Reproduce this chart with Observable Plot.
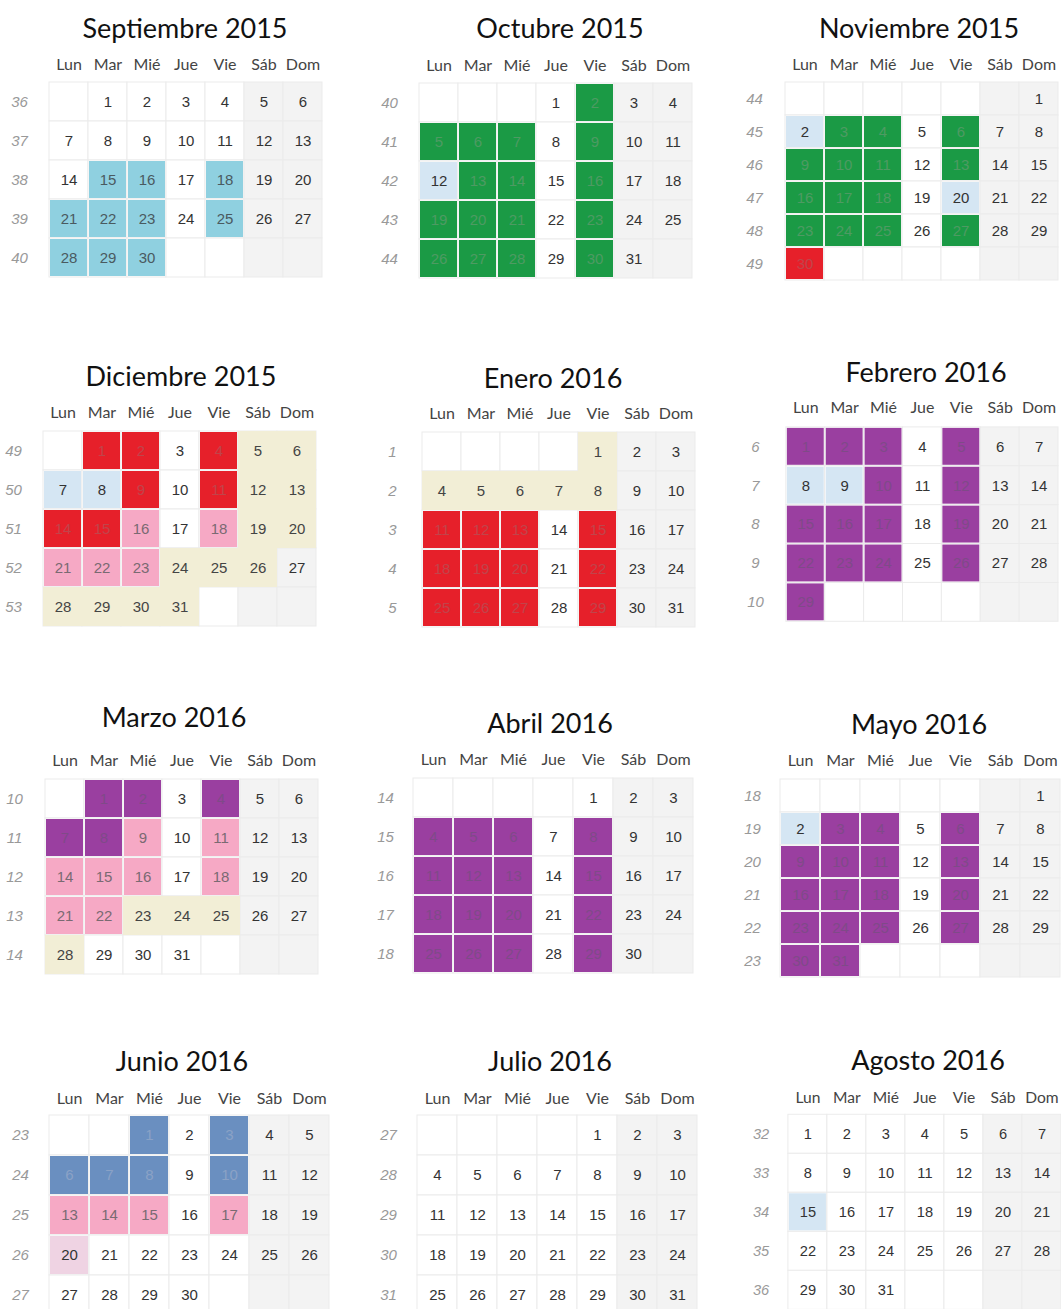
<!DOCTYPE html>
<html><head><meta charset="utf-8">
<script src="https://cdn.jsdelivr.net/npm/d3@7"></script>
<script src="https://cdn.jsdelivr.net/npm/@observablehq/plot@0.6"></script>
<style>
body{margin:0;background:#fff;}
#root{position:relative;width:1061px;height:1309px;overflow:hidden;background:#fff;}
.plotbox{position:absolute;}
.title{position:absolute;font-family:Lato,"Open Sans",sans-serif;font-size:27px;color:#111;white-space:nowrap;transform:translate(-50%,-50%);}
</style></head><body><div id="root"></div>
<script>
// ---------- data ----------
const weekdays = ["Lun","Mar","Mié","Jue","Vie","Sáb","Dom"];
const monthNames = ["Septiembre","Octubre","Noviembre","Diciembre","Enero","Febrero","Marzo","Abril","Mayo","Junio","Julio","Agosto"];
const monthYears = [2015,2015,2015,2015,2016,2016,2016,2016,2016,2016,2016,2016];
const monthIndex = [8,9,10,11,0,1,2,3,4,5,6,7];
const weekLabels = [
  ["36","37","38","39","40"],
  ["40","41","42","43","44"],
  ["44","45","46","47","48","49"],
  ["49","50","51","52","53"],
  ["1","2","3","4","5"],
  ["6","7","8","9","10"],
  ["10","11","12","13","14"],
  ["14","15","16","17","18"],
  ["18","19","20","21","22","23"],
  ["23","24","25","26","27"],
  ["27","28","29","30","31"],
  ["32","33","34","35","36"]
];
// highlighted days per month (index as monthNames)
const cyanDays = [[15,16,18,21,22,23,25,28,29,30],[],[],[],[],[],[],[],[],[],[],[]];
const greenDays = [[],[2,5,6,7,9,13,14,16,19,20,21,23,26,27,28,30],[3,4,6,9,10,11,13,16,17,18,23,24,25,27],[],[],[],[],[],[],[],[],[]];
const paleBlueDays = [[],[12],[2,20],[7,8],[],[8,9],[],[],[2],[],[],[15]];
const redDays = [[],[],[30],[1,2,4,9,11,14,15],[11,12,13,15,18,19,20,22,25,26,27,29],[],[],[],[],[],[],[]];
const pinkDays = [[],[],[],[16,18,21,22,23],[],[],[9,11,14,15,16,18,21,22],[],[],[13,14,15,17],[],[]];
const lightPinkDays = [[],[],[],[],[],[],[],[],[],[20],[],[]];
const beigeDays = [[],[],[],[5,6,12,13,19,20,24,25,26,28,29,30,31],[1,4,5,6,7,8],[],[23,24,25,28],[],[],[],[],[]];
const purpleDays = [[],[],[],[],[],[1,2,3,5,10,12,15,16,17,19,22,23,24,26,29],[1,2,4,7,8],[4,5,6,8,11,12,13,15,18,19,20,22,25,26,27,29],[3,4,6,9,10,11,13,16,17,18,20,23,24,25,27,30,31],[],[],[]];
const slateDays = [[],[],[],[],[],[],[],[],[],[1,3,6,7,8,10],[],[]];

// ---------- styles / layout ----------
const cats = [
  {days: cyanDays, fill: "#8fd0e0", text: "#4a5a60", inset: 1},
  {days: greenDays, fill: "#1b9a45", text: "#4e9a63", inset: 1},
  {days: paleBlueDays, fill: "#d5e6f3", text: "#333", inset: 1},
  {days: redDays, fill: "#e6202a", text: "#c1444a", inset: 1},
  {days: pinkDays, fill: "#f6a9c5", text: "#7a6a72", inset: 1},
  {days: lightPinkDays, fill: "#efd3e3", text: "#333", inset: 1},
  {days: beigeDays, fill: "#f2eed6", text: "#444", inset: 0},
  {days: purpleDays, fill: "#9a3fa0", text: "#7f4a88", inset: 1},
  {days: slateDays, fill: "#6a8fc0", text: "#8aa2c6", inset: 1}
];
// grid left, grid top, grid right, row height, title offset above grid, title centre x
const layout = [
  [47,81,324,39.4,54,185],[417,82,693,39.2,55,560],[782,82,1060,33.1,55,919],
  [41,429,318,39.6,54,181],[420,430,697,39.6,53,553],[783,425,1062,39.6,54,926],
  [42,777,320,39.8,61,174],[413,776,693,39.8,54,550],[780,777,1060,33.5,54,919],
  [48,1115,330,40,55,182],[416,1115,698,40,55,550],[789,1115,1069,40,56,928]
];
const ML = 45, MT = 30, MB = 2;
const root = document.getElementById("root");

monthNames.forEach((name, i) => {
  const [gl, gt, gr, rh, tdy, tcx] = layout[i];
  const labels = weekLabels[i];
  const y = monthYears[i], m = monthIndex[i];
  const first = new Date(y, m, 1);
  const nDays = d3.timeDay.count(first, new Date(y, m + 1, 1));
  const days = d3.range(1, nDays + 1).map(d => {
    const date = new Date(y, m, d);
    const c = cats.find(k => k.days[i].includes(d));
    return {
      day: d,
      wd: weekdays[(date.getDay() + 6) % 7],
      wk: labels[d3.timeMonday.count(first, date)],
      fill: c ? c.fill : null,
      text: c ? c.text : "#333",
      inset: c ? c.inset : null
    };
  });
  const grid = labels.flatMap(wk => weekdays.map((wd, j) => ({wk, wd, fill: j >= 5 ? "#f3f3f3" : "#ffffff"})));
  const plot = Plot.plot({
    width: ML + (gr - gl),
    height: MT + labels.length * rh + MB,
    marginLeft: ML, marginTop: MT, marginRight: 0, marginBottom: MB,
    x: {domain: weekdays, padding: 0},
    y: {domain: labels, padding: 0},
    color: {type: "identity"},
    marks: [
      Plot.cell(grid, {x: "wd", y: "wk", fill: "fill", stroke: "#ebebeb", strokeWidth: 1}),
      Plot.cell(days.filter(d => d.inset === 0), {x: "wd", y: "wk", fill: "fill"}),
      Plot.cell(days.filter(d => d.inset === 1), {x: "wd", y: "wk", fill: "fill", inset: 1}),
      Plot.text(days, {x: "wd", y: "wk", text: "day", fill: "text", fontSize: 15, fontFamily: "Liberation Sans, Arial, sans-serif"}),
      Plot.axisX({anchor: "top", tickSize: 0, tickPadding: 12, label: null, fontSize: 16, fill: "#444", fontFamily: "Lato, sans-serif"}),
      Plot.axisY({anchor: "left", tickSize: 0, tickPadding: 28, textAnchor: "middle", label: null, fontSize: 15, fill: "#999", fontStyle: "italic", fontFamily: "Liberation Sans, Arial, sans-serif"})
    ]
  });
  plot.style.overflow = "visible";
  const box = document.createElement("div");
  box.className = "plotbox";
  box.style.left = (gl - ML) + "px";
  box.style.top = (gt - MT) + "px";
  box.appendChild(plot);
  root.appendChild(box);
  const t = document.createElement("div");
  t.className = "title";
  t.textContent = name + " " + y;
  t.style.left = tcx + "px";
  t.style.top = (gt - tdy) + "px";
  root.appendChild(t);
});
</script></body></html>
